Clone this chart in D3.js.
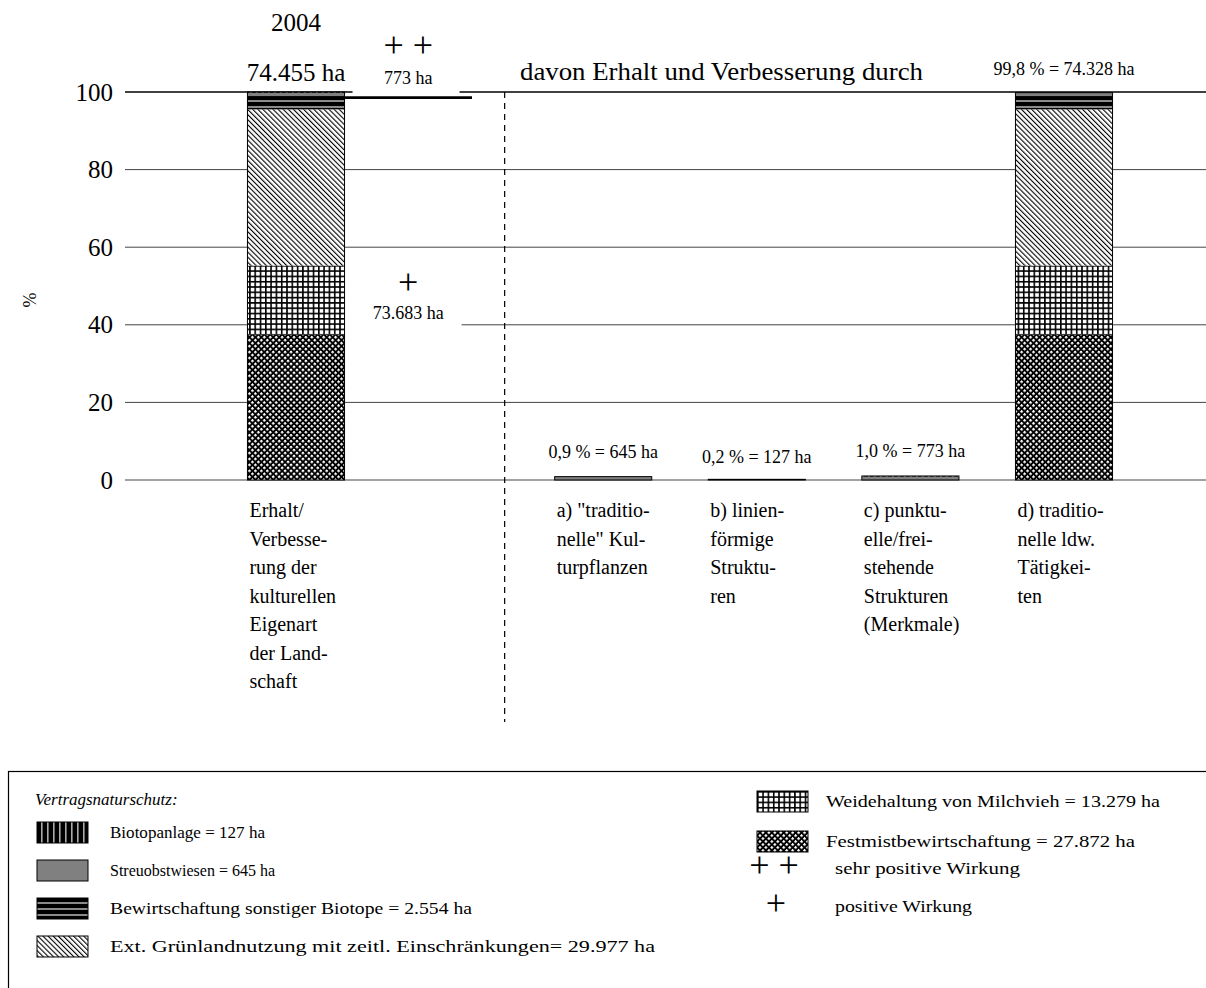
<!DOCTYPE html>
<html>
<head>
<meta charset="utf-8">
<script src="https://cdn.jsdelivr.net/npm/d3@7"></script>
<style>
  body { margin: 0; background: #fff; }
  svg { font-family: "Liberation Serif", "Times New Roman", serif; }
</style>
</head>
<body>
<svg width="1206" height="988"></svg>
<script>
// data
var slots = ["gesamt", "wirkung", "a", "b", "c", "d"];
var barSlots = ["gesamt", "a", "b", "c", "d"];
var seriesKeys = ["festmist", "weide", "gruenland", "biotope", "streuobst", "biotopanlage"];
var totalHa = 74455;
var festmist     = [27872, 0, 0, 0, 27872];
var weide        = [13279, 0, 0, 0, 13279];
var gruenland    = [29977, 0, 0, 0, 29977];
var biotope      = [2554, 0, 0, 0, 2554];
var streuobst    = [645, 645, 0, 645, 645];
var biotopanlage = [127, 0, 127, 127, 0];
var yTicks = [0, 20, 40, 60, 80, 100];
var barLabels = ["", "0,9 % = 645 ha", "0,2 % = 127 ha", "1,0 % = 773 ha", "99,8 % = 74.328 ha"];
var catLabels = [
  ["Erhalt/", "Verbesse-", "rung der", "kulturellen", "Eigenart", "der Land-", "schaft"],
  ["a) \"traditio-", "nelle\" Kul-", "turpflanzen"],
  ["b) linien-", "förmige", "Struktu-", "ren"],
  ["c) punktu-", "elle/frei-", "stehende", "Strukturen", "(Merkmale)"],
  ["d) traditio-", "nelle ldw.", "Tätigkei-", "ten"]
];
var sehrPositivHa = 773;
var legendLeft = [
  ["biotopanlage", "Biotopanlage = 127 ha", 155],
  ["streuobst", "Streuobstwiesen = 645 ha", 165],
  ["biotope", "Bewirtschaftung sonstiger Biotope = 2.554 ha", 362],
  ["gruenland", "Ext. Grünlandnutzung mit zeitl. Einschränkungen= 29.977 ha", 545]
];
var legendRight = [
  ["weide", "Weidehaltung von Milchvieh = 13.279 ha", 334],
  ["festmist", "Festmistbewirtschaftung = 27.872 ha", 309]
];

var rows = barSlots.map(function(s, i) {
  return { slot: s, festmist: festmist[i], weide: weide[i], gruenland: gruenland[i],
           biotope: biotope[i], streuobst: streuobst[i], biotopanlage: biotopanlage[i] };
});

var svg = d3.select("svg");
var defs = svg.append("defs");

// patterns
var p = defs.append("pattern").attr("id", "p-festmist").attr("patternUnits", "userSpaceOnUse")
  .attr("width", 4.2).attr("height", 4.2).attr("patternTransform", "rotate(45)");
p.append("rect").attr("width", 4.2).attr("height", 4.2).attr("fill", "#000");
p.append("rect").attr("width", 2.3).attr("height", 2.3).attr("fill", "#fff");

p = defs.append("pattern").attr("id", "p-weide").attr("patternUnits", "userSpaceOnUse")
  .attr("width", 5.3).attr("height", 5.3);
p.append("rect").attr("width", 5.3).attr("height", 5.3).attr("fill", "#fff");
p.append("rect").attr("width", 1.6).attr("height", 5.3).attr("fill", "#000");
p.append("rect").attr("width", 5.3).attr("height", 1.6).attr("fill", "#000");

p = defs.append("pattern").attr("id", "p-gruenland").attr("patternUnits", "userSpaceOnUse")
  .attr("width", 3.6).attr("height", 3.6).attr("patternTransform", "rotate(-45)");
p.append("rect").attr("width", 3.6).attr("height", 3.6).attr("fill", "#fff");
p.append("rect").attr("width", 1.1).attr("height", 3.6).attr("fill", "#000");

p = defs.append("pattern").attr("id", "p-biotope").attr("patternUnits", "userSpaceOnUse")
  .attr("width", 6).attr("height", 6);
p.append("rect").attr("width", 6).attr("height", 6).attr("fill", "#000");
p.append("rect").attr("y", 4).attr("width", 6).attr("height", 2).attr("fill", "#8a8a8a");

p = defs.append("pattern").attr("id", "p-biotopanlage").attr("patternUnits", "userSpaceOnUse")
  .attr("width", 6).attr("height", 6);
p.append("rect").attr("width", 6).attr("height", 6).attr("fill", "#000");
p.append("rect").attr("x", 4).attr("width", 1.6).attr("height", 6).attr("fill", "#aaa");

function fillOf(k) {
  return k == "streuobst" ? "#808080" : "url(#p-" + k + ")";
}

var x = d3.scaleBand().domain(slots).range([219.2, 1140.8]).paddingInner(0.368).paddingOuter(0.184);
var y = d3.scaleLinear().domain([0, 100]).range([480, 92]);
var gridLeft = 125, gridRight = 1206;

// gridlines
svg.append("g").selectAll("line").data(yTicks).enter().append("line")
  .attr("x1", gridLeft).attr("x2", gridRight)
  .attr("y1", function(d) { return y(d); }).attr("y2", function(d) { return y(d); })
  .attr("stroke", function(d) { return d == 100 ? "#000" : "#444"; })
  .attr("stroke-width", function(d) { return d == 100 ? 1.4 : 1; });

// y axis labels
var yAxis = d3.axisLeft(y).tickValues(yTicks).tickSize(0).tickPadding(0);
var ag = svg.append("g").attr("transform", "translate(" + 113 + ",0)").call(yAxis);
ag.select(".domain").remove();
ag.selectAll("text").attr("font-size", 25).attr("font-family", "Liberation Serif").attr("fill", "#000");

svg.append("text").attr("transform", "translate(36,300) rotate(-90)")
  .attr("text-anchor", "middle").attr("font-size", 18).text("%");

// dashed separator
var sepX = x("a") - 50;
svg.append("line").attr("x1", sepX).attr("x2", sepX).attr("y1", y(100)).attr("y2", 722)
  .attr("stroke", "#000").attr("stroke-width", 1.2).attr("stroke-dasharray", "6,5");

// white boxes for effect labels
var effX = x("gesamt") + x.bandwidth();
var effEnd = 472;
var effMid = (effX + effEnd) / 2;
svg.append("rect").attr("x", effX + 8).attr("y", 30).attr("width", 107).attr("height", 64).attr("fill", "#fff");
svg.append("rect").attr("x", effX).attr("y", 262).attr("width", 117).attr("height", 66).attr("fill", "#fff");

// stacked bars
var stack = d3.stack().keys(seriesKeys);
var layers = stack(rows);
svg.append("g").selectAll("g").data(layers).enter().append("g")
  .attr("fill", function(d) { return fillOf(d.key); })
  .selectAll("rect").data(function(d) { return d; }).enter()
  .filter(function(d) { return d[1] - d[0] > 0; })
  .append("rect")
  .attr("x", function(d) { return x(d.data.slot); })
  .attr("width", x.bandwidth())
  .attr("y", function(d) { return y(d[1] / totalHa * 100); })
  .attr("height", function(d) { return y(d[0] / totalHa * 100) - y(d[1] / totalHa * 100); });

// bar outlines
svg.append("g").selectAll("rect").data(rows).enter().append("rect")
  .attr("x", function(d) { return x(d.slot); })
  .attr("width", x.bandwidth())
  .attr("y", function(d) { return y(d3.sum(seriesKeys, function(k) { return d[k]; }) / totalHa * 100); })
  .attr("height", function(d) { return y(0) - y(d3.sum(seriesKeys, function(k) { return d[k]; }) / totalHa * 100); })
  .attr("fill", "none").attr("stroke", "#000").attr("stroke-width", 1);

// "++" bracket line
var yPP = y(100 - sehrPositivHa / totalHa * 100) + 1.5;
svg.append("line").attr("x1", effX).attr("x2", effEnd).attr("y1", yPP).attr("y2", yPP)
  .attr("stroke", "#000").attr("stroke-width", 2.8);

// bar value labels
svg.append("g").selectAll("text").data(rows).enter().append("text")
  .attr("x", function(d) { return x(d.slot) + x.bandwidth() / 2; })
  .attr("y", function(d, i) { return [0, 458, 463, 457, 75][i]; })
  .attr("text-anchor", "middle").attr("font-size", 18)
  .text(function(d, i) { return barLabels[i]; });

// header texts
var cx0 = x("gesamt") + x.bandwidth() / 2;
svg.append("text").attr("x", cx0).attr("y", 31).attr("text-anchor", "middle").attr("font-size", 25).text("2004");
svg.append("text").attr("x", cx0).attr("y", 81).attr("text-anchor", "middle").attr("font-size", 25).text("74.455 ha");
svg.append("text").attr("x", effMid).attr("y", 57).attr("text-anchor", "middle").attr("font-size", 36).text("+ +");
svg.append("text").attr("x", effMid).attr("y", 84).attr("text-anchor", "middle").attr("font-size", 18).text("773 ha");
svg.append("text").attr("x", effMid).attr("y", 294).attr("text-anchor", "middle").attr("font-size", 36).text("+");
svg.append("text").attr("x", effMid).attr("y", 319).attr("text-anchor", "middle").attr("font-size", 18).text("73.683 ha");
svg.append("text").attr("x", 520).attr("y", 80).attr("font-size", 26)
  .attr("textLength", 403).attr("lengthAdjust", "spacingAndGlyphs").text("davon Erhalt und Verbesserung durch");

// category labels
var cg = svg.append("g").selectAll("text").data(rows).enter().append("text")
  .attr("x", function(d) { return x(d.slot) + 2; })
  .attr("y", 517).attr("font-size", 20);
cg.selectAll("tspan").data(function(d, i) { return catLabels[i]; }).enter().append("tspan")
  .attr("x", function() { return d3.select(this.parentNode).attr("x"); })
  .attr("dy", function(d, i) { return i == 0 ? 0 : 28.5; })
  .text(function(d) { return d; });

// legend
svg.append("rect").attr("x", 8.5).attr("y", 771.5).attr("width", 1300).attr("height", 300)
  .attr("fill", "none").attr("stroke", "#000").attr("stroke-width", 1.2);
svg.append("text").attr("x", 35).attr("y", 805).attr("font-size", 17).attr("font-style", "italic")
  .text("Vertragsnaturschutz:");

var lg = svg.append("g").selectAll("g").data(legendLeft).enter().append("g")
  .attr("transform", function(d, i) { return "translate(37," + (822 + i * 38) + ")"; });
lg.append("rect").attr("width", 51).attr("height", 21).attr("fill", function(d) { return fillOf(d[0]); })
  .attr("stroke", "#000").attr("stroke-width", 1);
lg.append("text").attr("x", 73).attr("y", 16).attr("font-size", 17)
  .attr("textLength", function(d) { return d[2]; }).attr("lengthAdjust", "spacingAndGlyphs")
  .text(function(d) { return d[1]; });

var rg = svg.append("g").selectAll("g").data(legendRight).enter().append("g")
  .attr("transform", function(d, i) { return "translate(757," + (791 + i * 40) + ")"; });
rg.append("rect").attr("width", 51).attr("height", 21).attr("fill", function(d) { return fillOf(d[0]); })
  .attr("stroke", "#000").attr("stroke-width", 1);
rg.append("text").attr("x", 69).attr("y", 16).attr("font-size", 17)
  .attr("textLength", function(d) { return d[2]; }).attr("lengthAdjust", "spacingAndGlyphs")
  .text(function(d) { return d[1]; });

svg.append("text").attr("x", 774).attr("y", 877).attr("text-anchor", "middle").attr("font-size", 36).text("+ +");
svg.append("text").attr("x", 835).attr("y", 874).attr("font-size", 17)
  .attr("textLength", 185).attr("lengthAdjust", "spacingAndGlyphs").text("sehr positive Wirkung");
svg.append("text").attr("x", 776).attr("y", 915).attr("text-anchor", "middle").attr("font-size", 36).text("+");
svg.append("text").attr("x", 835).attr("y", 912).attr("font-size", 17)
  .attr("textLength", 137).attr("lengthAdjust", "spacingAndGlyphs").text("positive Wirkung");
</script>
</body>
</html>
